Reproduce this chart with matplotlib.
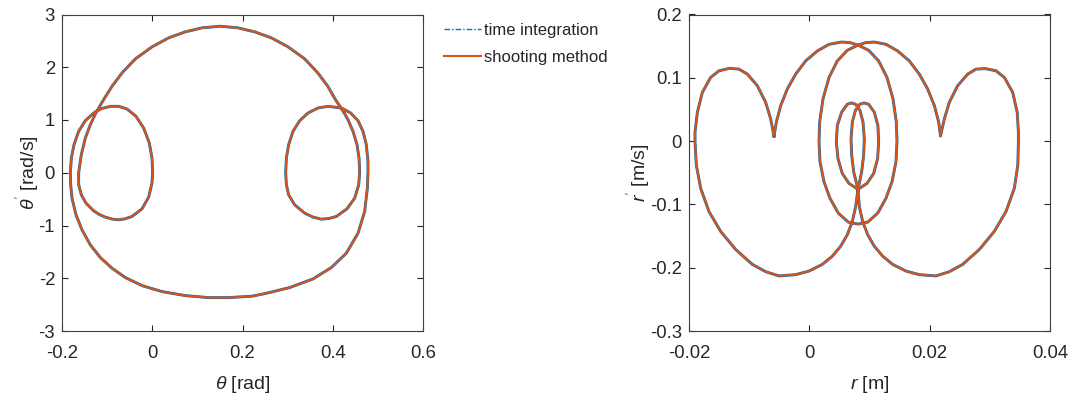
import matplotlib
matplotlib.use("Agg")
import matplotlib.pyplot as plt
from matplotlib.lines import Line2D

plt.rcParams['font.family'] = ['Liberation Sans', 'DejaVu Sans']
plt.rcParams['mathtext.fontset'] = 'custom'
plt.rcParams['mathtext.rm'] = 'Liberation Sans'
plt.rcParams['mathtext.it'] = 'Liberation Sans:italic'
plt.rcParams['axes.unicode_minus'] = False

# ---------------- data: left panel (theta, theta') ----------------
theta = [0.4242, 0.4060, 0.3890, 0.3670, 0.3380, 0.3010, 0.2640, 0.2270, 0.1900, 0.1509,
         0.1103, 0.0733, 0.0364, -0.0006, -0.0375, -0.0670, -0.0892, -0.1077, -0.1239,
         -0.1372, -0.1483, -0.1572, -0.1631, -0.1631, -0.1572, -0.1468, -0.1298, -0.1170,
         -0.1040, -0.0890, -0.0744, -0.0600, -0.0449, -0.0227, -0.0079, -0.0006, 0.0009,
         -0.0006, -0.0065, -0.0190,
         -0.0360, -0.0560, -0.0744, -0.0929, -0.1128, -0.1298, -0.1483, -0.1631, -0.1734,
         -0.1793, -0.1815, -0.1808, -0.1778, -0.1690, -0.1557, -0.1372, -0.1150, -0.0892,
         -0.0596, -0.0227, 0.0216, 0.0733, 0.1250, 0.1694, 0.2211, 0.2528, 0.3045, 0.3562,
         0.3969, 0.4301, 0.4560, 0.4707, 0.4767, 0.4781, 0.4781, 0.4744, 0.4670, 0.4560,
         0.4397, 0.4190, 0.3895, 0.3673, 0.3452, 0.3267, 0.3119, 0.3023, 0.2972, 0.2957,
         0.2972, 0.3023, 0.3156, 0.3378, 0.3560, 0.3747, 0.3910, 0.4080, 0.4316, 0.4486,
         0.4575, 0.4597, 0.4582, 0.4538, 0.4449, 0.4338, 0.4242]
dtheta = [1.152, 1.386, 1.639, 1.892, 2.158, 2.386, 2.557, 2.671, 2.747, 2.778,
          2.747, 2.671, 2.557, 2.386, 2.158, 1.892, 1.639, 1.386, 1.152,
          0.911, 0.658, 0.342, 0.0, -0.228, -0.418, -0.576, -0.722, -0.793,
          -0.842, -0.878, -0.892, -0.873, -0.829, -0.684, -0.462, -0.196, 0.0,
          0.278, 0.563, 0.848,
          1.070, 1.209, 1.259, 1.259, 1.215, 1.133, 0.987, 0.785, 0.532,
          0.278, 0.0, -0.228, -0.481, -0.797, -1.082, -1.367, -1.608, -1.810,
          -1.987, -2.139, -2.253, -2.329, -2.367, -2.367, -2.340, -2.285, -2.177, -2.013,
          -1.797, -1.525, -1.146, -0.734, -0.291, 0.0, 0.215, 0.532, 0.785, 0.987,
          1.133, 1.228, 1.259, 1.228, 1.133, 0.987, 0.785, 0.532, 0.278, 0.0,
          -0.228, -0.418, -0.608, -0.766, -0.840, -0.880, -0.868, -0.829, -0.684, -0.481,
          -0.228, 0.0, 0.278, 0.532, 0.785, 1.006, 1.152]

# ---------------- data: right panel (r, r') ----------------
r = [-0.00587, -0.00643, -0.00726, -0.00864, -0.01030, -0.01169, -0.01324, -0.01501, -0.01640,
     -0.01778, -0.01861, -0.01900, -0.01900, -0.01878, -0.01806, -0.01668, -0.01474, -0.01224,
     -0.00947, -0.00726, -0.00504,
     -0.00227, -0.00006, 0.00216, 0.00382, 0.00521, 0.00632, 0.00715, 0.00770, 0.00809,
     0.00958, 0.01069, 0.01135, 0.01152, 0.01140, 0.01080, 0.00986, 0.00909, 0.00837,
     0.00765, 0.00715, 0.00693, 0.00704, 0.00737, 0.00809,
     0.00659, 0.00548, 0.00476, 0.00449, 0.00465, 0.00537, 0.00632, 0.00698, 0.00770,
     0.00842, 0.00892, 0.00914, 0.00903, 0.00870, 0.00809,
     0.00831, 0.00886, 0.00970, 0.01080, 0.01219, 0.01385, 0.01607, 0.01828, 0.02105,
     0.02327, 0.02548, 0.02825, 0.03075, 0.03269, 0.03407, 0.03465, 0.03475, 0.03475,
     0.03455, 0.03380, 0.03241, 0.03102, 0.02925, 0.02770, 0.02632, 0.02465, 0.02327,
     0.02244, 0.02180,
     0.02150, 0.02078, 0.01967, 0.01828, 0.01662, 0.01468, 0.01274, 0.01080, 0.00936, 0.00798,
     0.00632, 0.00465, 0.00327, 0.00227, 0.00172, 0.00161, 0.00177, 0.00244, 0.00343,
     0.00482, 0.00648, 0.00809, 0.00970, 0.01136, 0.01274, 0.01374, 0.01440, 0.01457,
     0.01446, 0.01391, 0.01291, 0.01152, 0.00986, 0.00820,
     0.00681, 0.00537, 0.00327, 0.00133, -0.00061, -0.00227, -0.00366, -0.00476, -0.00548,
     -0.00587]
dr = [0.0080, 0.0352, 0.0613, 0.0875, 0.1058, 0.1137, 0.1150, 0.1111, 0.1006,
      0.0770, 0.0456, 0.0143, -0.0014, -0.0380, -0.0746, -0.1112, -0.1426, -0.1713,
      -0.1948, -0.2063, -0.2130,
      -0.2110, -0.2053, -0.1948, -0.1818, -0.1661, -0.1478, -0.1269, -0.1034, -0.0762,
      -0.0668, -0.0512, -0.0276, -0.0014, 0.0247, 0.0456, 0.0582, 0.0603, 0.0582,
      0.0483, 0.0300, 0.0038, -0.0223, -0.0484, -0.0762,
      -0.0668, -0.0512, -0.0276, -0.0014, 0.0247, 0.0456, 0.0582, 0.0603, 0.0582,
      0.0483, 0.0300, 0.0038, -0.0223, -0.0484, -0.0762,
      -0.1034, -0.1269, -0.1478, -0.1661, -0.1818, -0.1948, -0.2053, -0.2110, -0.2130,
      -0.2063, -0.1948, -0.1713, -0.1426, -0.1112, -0.0746, -0.0380, -0.0014, 0.0143,
      0.0456, 0.0770, 0.1006, 0.1111, 0.1145, 0.1137, 0.1058, 0.0875, 0.0613,
      0.0352, 0.0080,
      0.0300, 0.0561, 0.0823, 0.1058, 0.1267, 0.1424, 0.1529, 0.1565, 0.1555, 0.1512,
      0.1434, 0.1267, 0.1005, 0.0666, 0.0300, -0.0004, -0.0328, -0.0642, -0.0903,
      -0.1139, -0.1280, -0.1311, -0.1280, -0.1139, -0.0903, -0.0642, -0.0328, -0.0004,
      0.0300, 0.0666, 0.1005, 0.1267, 0.1434, 0.1512,
      0.1555, 0.1565, 0.1529, 0.1424, 0.1267, 0.1058, 0.0823, 0.0561, 0.0300,
      0.0080]

# ticks
left_xticks = [-0.2, 0, 0.2, 0.4, 0.6]
left_xlabels = ['-0.2', '0', '0.2', '0.4', '0.6']
left_yticks = [-3, -2, -1, 0, 1, 2, 3]
left_ylabels = ['-3', '-2', '-1', '0', '1', '2', '3']
right_xticks = [-0.02, 0, 0.02, 0.04]
right_xlabels = ['-0.02', '0', '0.02', '0.04']
right_yticks = [-0.3, -0.2, -0.1, 0, 0.1, 0.2]
right_ylabels = ['-0.3', '-0.2', '-0.1', '0', '0.1', '0.2']

series_names = ['time integration', 'shooting method']
c_time = '#0072BD'
c_shoot = '#D95319'
txt = '#262626'

W, H = 1073, 403
fig = plt.figure(figsize=(W / 100, H / 100), dpi=100)

def make_ax(x0, x1, y_top, y_bot):
    return fig.add_axes([x0 / W, 1 - y_bot / H, (x1 - x0) / W, (y_bot - y_top) / H])

ax1 = make_ax(62, 423, 14.5, 331)
ax2 = make_ax(689, 1050, 14.5, 331)

for ax, x, y in ((ax1, theta, dtheta), (ax2, r, dr)):
    ax.plot(x, y, color=c_time, lw=2.1, solid_joinstyle='round', zorder=2)
    ax.plot(x, y, color=c_shoot, lw=1.5, solid_joinstyle='round', zorder=3)

def style(ax, xt, xl, yt, yl):
    ax.set_xticks(xt)
    ax.set_xticklabels(xl)
    ax.set_yticks(yt)
    ax.set_yticklabels(yl)
    ax.set_xlim(xt[0], xt[-1])
    ax.set_ylim(yt[0], yt[-1])
    ax.tick_params(direction='in', length=4, width=0.8, colors=txt, labelsize=13.3,
                   top=True, right=True)
    ax.tick_params(axis='x', pad=10)
    ax.tick_params(axis='y', pad=5)
    for s in ax.spines.values():
        s.set_color('#404040')
        s.set_linewidth(0.8)

style(ax1, left_xticks, left_xlabels, left_yticks, left_ylabels)
style(ax2, right_xticks, right_xlabels, right_yticks, right_ylabels)

ax1.set_xlabel(r'$\theta$ [rad]', fontsize=14, color=txt, labelpad=9)
ax1.set_ylabel(r"$\theta^{'}$ [rad/s]", fontsize=14, color=txt, labelpad=-3)
ax2.set_xlabel(r'$r$ [m]', fontsize=14, color=txt, labelpad=9)
ax2.set_ylabel(r"$r^{'}$ [m/s]", fontsize=14, color=txt, labelpad=-3)

handles = [Line2D([], [], color=c_time, lw=1.0, ls=(0, (4, 1.5, 1, 1.5))),
           Line2D([], [], color=c_shoot, lw=1.5)]
fig.legend(handles, series_names, loc='upper left',
           bbox_to_anchor=(444 / W, 1 - 23 / H), frameon=False, fontsize=12,
           handlelength=2.2, handletextpad=0.2, borderpad=0, borderaxespad=0,
           labelspacing=0.7, labelcolor=txt)

fig.savefig('out.png', dpi=100)
